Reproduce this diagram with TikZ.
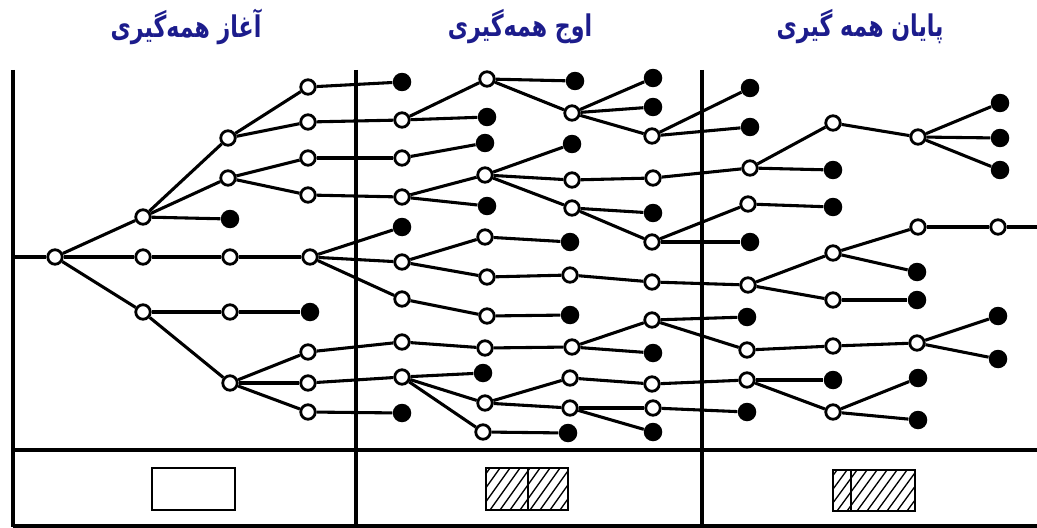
\documentclass[tikz,border=0pt]{standalone}
\usepackage{fontspec}
\newfontfamily\arabicfont[Script=Arabic]{DejaVu Sans}
\TeXXeTstate=1
\definecolor{titleblue}{RGB}{28,28,140}
\tikzset{
  op/.style={circle,draw=black,fill=white,line width=1.6pt,minimum size=0.29cm,inner sep=0pt},
  fp/.style={circle,fill=black,minimum size=0.37cm,inner sep=0pt},
  conn/.style={line width=1.75pt},
  frame/.style={line width=1.8pt},
  keybox/.style={line width=0.9pt},
  hatchline/.style={line width=0.75pt},
  title/.style={text=titleblue,font=\arabicfont\bfseries\fontsize{17}{20}\selectfont,inner sep=0pt}
}
\begin{document}
\begin{tikzpicture}[x=0.02cm,y=-0.02cm]
\useasboundingbox (0,0) rectangle (1037,527);
% titles
\node[title] (t1) at (186,27) {\scalebox{0.74}[1]{\beginR آغاز همه^^^^200cگیری\endR}};
\node[title] (t2) at (520,27) {\scalebox{0.74}[1]{\beginR اوج همه^^^^200cگیری\endR}};
\node[title] (t3) at (860,27) {\scalebox{0.74}[1]{\beginR پایان همه گیری\endR}};
% frame
\draw[frame] (13,70) -- (13,527);
\draw[frame] (356,70) -- (356,527);
\draw[frame] (702,70) -- (702,527);
\draw[frame] (13,450) -- (1037,450);
\draw[frame] (13,526) -- (1037,526);
% open nodes
\foreach \n/\x/\y in {r/55/257,a1/143/217,a2/143/257,a3/143/312,
  b1/228/138,b2/228/178,b4/230/257,b5/230/312,b6/230/383,
  c1/308/87,c2/308/122,c3/308/158,c4/308/195,c5/310/257,c7/308/352,c8/308/383,c9/308/412,
  d2/402/120,d3/402/158,d4/402/197,d6/402/262,d7/402/299,d8/402/342,d9/402/377,
  e1/487/79,e4/485/175,e6/485/237,e7/487/277,e8/487/316,e9/485/348,e11/485/403,e12/483/432,
  f2/572/113,f4/572/180,f5/572/208,f7/570/275,f9/572/347,f10/570/378,f11/570/408,
  g3/652/136,g4/653/178,g6/652/242,g7/652/282,g8/652/320,g10/652/384,g11/653/408,
  h3/750/168,h4/748/204,h6/748/285,h8/747/350,h9/747/380,
  i1/833/123,i4/833/253,i5/833/300,i6/833/346,i8/833/412,
  j1/918/137,j2/918/227,j5/917/343,
  k4/998/227}
  \node[op] (\n) at (\x,\y) {};
% filled nodes
\foreach \n/\x/\y in {b3/230/219,c6/310/312,
  d1/402/82,d5/402/227,d10/402/413,
  e2/487/117,e3/485/143,e5/487/206,e10/483/373,
  f1/575/81,f3/572/144,f6/570/242,f8/570/315,f12/568/433,
  g1/653/78,g2/653/107,g5/653/213,g9/653/353,g12/653/432,
  h1/750/88,h2/750/127,h5/750/242,h7/747/317,h10/747/412,
  i2/833/170,i3/833/207,i7/833/380,
  j3/917/272,j4/917/300,j6/918/378,j7/918/420,
  k1/1000/103,k2/1000/138,k3/1000/170,k5/998/316,k6/998/359}
  \node[fp] (\n) at (\x,\y) {};
\coordinate (start) at (13,257);
\coordinate (finish) at (1037,227);
% connectors
\foreach \a/\b in {start/r,r/a1,r/a2,r/a3,a1/b1,a1/b2,a1/b3,b1/c1,b1/c2,b2/c3,b2/c4,
  a2/b4,b4/c5,a3/b5,b5/c6,a3/b6,b6/c7,b6/c8,b6/c9,
  c1/d1,c2/d2,c3/d3,c4/d4,c5/d5,c5/d6,c5/d7,c7/d8,c8/d9,c9/d10,
  d2/e1,d2/e2,d3/e3,d4/e4,d4/e5,d6/e6,d6/e7,d7/e8,d8/e9,d9/e10,d9/e11,d9/e12,
  e1/f1,e1/f2,e4/f3,e4/f4,e4/f5,e6/f6,e7/f7,e8/f8,e9/f9,e11/f10,e11/f11,e12/f12,
  f2/g1,f2/g2,f2/g3,f4/g4,f5/g5,f5/g6,f7/g7,f9/g8,f9/g9,f10/g10,f11/g11,f11/g12,
  g3/h1,g3/h2,g4/h3,g6/h4,g6/h5,g7/h6,g8/h7,g8/h8,g10/h9,g11/h10,
  h3/i1,h3/i2,h4/i3,h6/i4,h6/i5,h8/i6,h9/i7,h9/i8,
  i1/j1,i4/j2,i4/j3,i5/j4,i6/j5,i8/j6,i8/j7,
  j1/k1,j1/k2,j1/k3,j2/k4,k4/finish,j5/k5,j5/k6}
  \draw[conn] (\a) -- (\b);
% key boxes
\draw[keybox] (152,468) rectangle (235,510);
\begin{scope}
  \clip (486,468) rectangle (568,510);
  \foreach \s in {440,450,...,570} \draw[hatchline] (\s,510) -- ++(30,-42);
\end{scope}
\draw[keybox] (486,468) rectangle (568,510);
\draw[keybox] (528,468) -- (528,510);
\begin{scope}
  \clip (833,470) rectangle (915,511);
  \foreach \s in {787,797,...,917} \draw[hatchline] (\s,511) -- ++(30,-41);
\end{scope}
\draw[keybox] (833,470) rectangle (915,511);
\draw[keybox] (851,470) -- (851,511);
\end{tikzpicture}
\end{document}
